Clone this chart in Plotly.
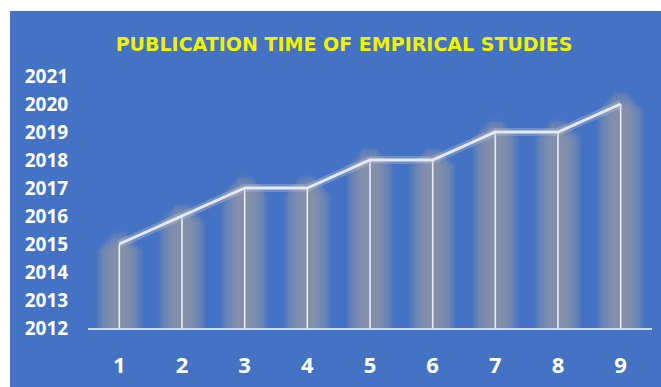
import plotly.graph_objects as go

# ---- data ----
studies = [1, 2, 3, 4, 5, 6, 7, 8, 9]
years = [2015, 2016, 2017, 2017, 2018, 2018, 2019, 2019, 2020]
y_ticks = list(range(2012, 2022))
title_text = "PUBLICATION TIME OF EMPIRICAL STUDIES"

BLUE = "#4472C4"
Y_MIN, Y_MAX = 2012, 2021

fig = go.Figure()

# blurred glow columns: stacked translucent bars
n_layers = 12
for k in range(n_layers):
    w = 0.76 - k * 0.05
    ext = -0.2 + k * 0.06
    fig.add_trace(go.Bar(
        x=studies,
        y=[v - Y_MIN + ext for v in years],
        base=Y_MIN,
        width=w,
        marker=dict(color="rgb(160,160,165)", line=dict(width=0)),
        opacity=0.10,
        hoverinfo="skip",
        showlegend=False,
    ))

# drop lines from each point to the baseline
dx, dy = [], []
for s, v in zip(studies, years):
    dx += [s, s, None]
    dy += [v, Y_MIN, None]
fig.add_trace(go.Scatter(x=dx, y=dy, mode="lines",
                         line=dict(color="rgba(240,243,250,0.95)", width=1.6),
                         hoverinfo="skip", showlegend=False))

# soft halo behind line
fig.add_trace(go.Scatter(x=studies, y=years, mode="lines",
                         line=dict(color="rgba(190,196,210,0.35)", width=8),
                         hoverinfo="skip", showlegend=False))
# main line
fig.add_trace(go.Scatter(x=studies, y=years, mode="lines",
                         line=dict(color="#E6EAF0", width=3),
                         showlegend=False))

# panel geometry
L, R, T, B = 88, 9, 76, 59
W, H = 661, 387
pw, ph = W - L - R, H - T - B
def px(x):
    return (x - L) / pw
def py(y):
    return 1 - (y - T) / ph

# blue panel on white paper
fig.add_shape(type="rect", xref="paper", yref="paper",
              x0=px(10), x1=px(W + 5), y0=py(H + 5), y1=py(11),
              fillcolor=BLUE, line=dict(width=0), layer="below")

fig.update_layout(
    width=W, height=H,
    margin=dict(l=L, r=R, t=T, b=B, autoexpand=False),
    paper_bgcolor="white",
    plot_bgcolor=BLUE,
    barmode="overlay",
    bargap=0,
    title=dict(text=title_text, xref="container", x=344 / W, xanchor="center",
               yref="container", y=1 - 44 / H, yanchor="middle",
               font=dict(family="DejaVu Sans", size=19, color="#F0F200", weight="bold")),
    xaxis=dict(range=[0.5, 9.5], tickvals=studies, ticktext=[str(s) for s in studies],
               automargin=False,
               showgrid=False, zeroline=False, showline=True,
               linecolor="rgba(215,225,242,0.95)", linewidth=1.6,
               ticks="outside", ticklen=17, tickcolor="rgba(0,0,0,0)",
               tickfont=dict(family="Open Sans", size=22, color="white", weight="bold")),
    yaxis=dict(range=[Y_MIN, Y_MAX], tickvals=y_ticks, ticktext=[str(t) for t in y_ticks],
               automargin=False,
               showgrid=False, zeroline=False, showline=False,
               ticks="outside", ticklen=15, tickcolor="rgba(0,0,0,0)",
               tickfont=dict(family="Open Sans", size=19, color="white", weight="bold")),
)

fig.write_html("out.html")
